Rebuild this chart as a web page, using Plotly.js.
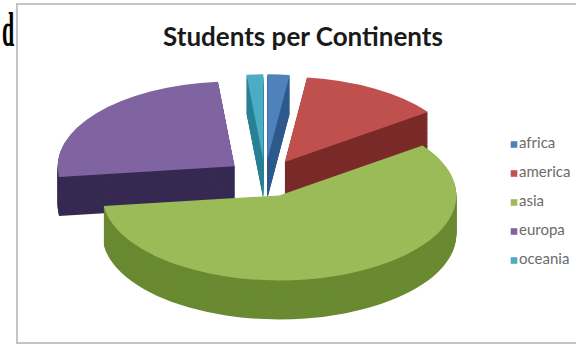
<!DOCTYPE html>
<html>
<head>
<meta charset="utf-8">
<script src="https://cdn.plot.ly/plotly-3.0.1.min.js"></script>
<style>
  html, body { margin: 0; padding: 0; background: #ffffff; }
  #chart { width: 576px; height: 347px; }
  .legendpie { transform: translate(35px, 4px) scale(0.55); }
</style>
</head>
<body>
<div id="chart"></div>
<script>
// ---- data ----
const labels = ['africa', 'america', 'asia', 'europa', 'oceania'];
const values = [2, 13, 58, 25.5, 1.5];
const topColors = ['#4F81BD', '#C0504D', '#9BBB59', '#8064A2', '#4BACC6'];
const sideColors = ['#2f5a8c', '#7a2b29', '#6a8a32', '#362a52', '#2b8096'];
const titleText = 'Students per Continents';

// ---- geometry (style) ----
const W = 576, H = 347;
const PULL = 0.22;
const target = { x: 265, y: 178, rx: 177, ry: 85, depth: 39 };
const R = H / (2 * (1 + PULL) + target.depth / target.ry);
const DEPTH = target.depth * R / target.ry;   // unscaled depth px
const NLAYERS = 45;
const boxH = H - DEPTH;
const sx = target.rx / R, sy = target.ry / R;
const cx0 = W / 2, cy0 = boxH / 2;

const legendLabels = labels.map(l => '<span style="font-size:15px">' + l + '</span>');

const traces = [];
for (let k = NLAYERS; k >= 1; k--) {
  const off = k * DEPTH / NLAYERS / H;
  traces.push({
    type: 'pie', labels: legendLabels, values: values, sort: false,
    direction: 'clockwise', rotation: 0, pull: PULL,
    marker: { colors: sideColors, line: { width: 0 } },
    textinfo: 'none', hoverinfo: 'skip', showlegend: false,
    domain: { x: [0, 1], y: [DEPTH / H - off, 1 - off] }
  });
}
traces.push({
  type: 'pie', labels: legendLabels, values: values, sort: false,
  direction: 'clockwise', rotation: 0, pull: PULL,
  marker: { colors: topColors, line: { width: 0 } },
  textinfo: 'none', hoverinfo: 'label+percent',
  domain: { x: [0, 1], y: [DEPTH / H, 1] }
});

const layout = {
  width: W, height: H,
  margin: { l: 0, r: 0, t: 0, b: 0 },
  paper_bgcolor: '#ffffff', plot_bgcolor: '#ffffff',
  title: {
    text: '<b>' + titleText + '</b>',
    font: { family: 'Lato, "Open Sans", sans-serif', size: 26, color: '#1a1a1a' },
    x: 303 / W, xanchor: 'center', y: 1 - 37 / H, yanchor: 'middle'
  },
  showlegend: true,
  legend: {
    x: 479 / W, xanchor: 'left', y: 1 - 121 / H, yanchor: 'top',
    font: { family: 'Lato, "Open Sans", sans-serif', size: 20, color: '#6b6b6b' },
    bgcolor: 'rgba(0,0,0,0)', traceorder: 'normal'
  },
  shapes: [{
    type: 'rect', xref: 'paper', yref: 'paper',
    x0: 17 / W, x1: 1.01, y0: 1 - 343 / H, y1: 1 - 4 / H,
    line: { color: '#c4c4c4', width: 2 }, fillcolor: 'rgba(0,0,0,0)', layer: 'below'
  }],
  annotations: [{
    text: 'd', xref: 'paper', yref: 'paper', x: 0, xanchor: 'left', xshift: 2,
    borderpad: 0, borderwidth: 0,
    y: 1 - 29 / H, yanchor: 'middle', showarrow: false,
    font: { family: '"Liberation Serif", serif', size: 22, color: '#000000', weight: 'bold' }
  }]
};

Plotly.newPlot('chart', traces, layout, { staticPlot: true, displayModeBar: false }).then(function () {
  const pl = document.querySelector('.pielayer');
  if (pl) {
    const tx = target.x - sx * cx0;
    const ty = target.y - sy * cy0;
    pl.style.transformOrigin = '0 0';
    pl.style.transform = 'translate(' + tx + 'px,' + ty + 'px) scale(' + sx + ',' + sy + ')';
  }
  const at = document.querySelector('.annotation-text');
  if (at) {
    at.style.transformBox = 'fill-box';
    at.style.transformOrigin = 'center center';
    at.style.transform = 'scaleY(2.2)';
  }
});
</script>
</body>
</html>
